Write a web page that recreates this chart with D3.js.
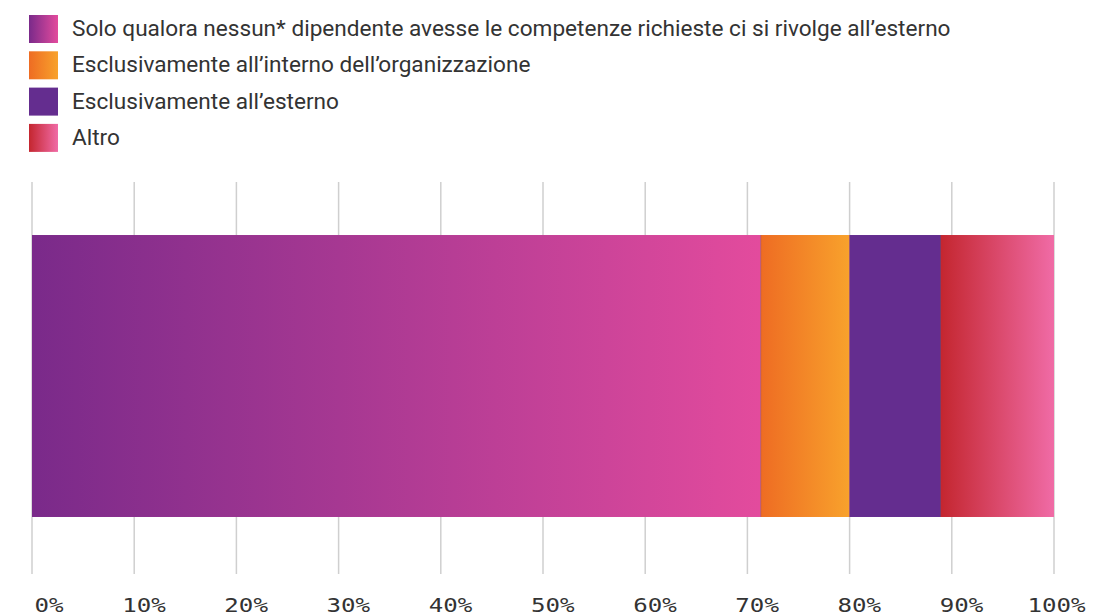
<!DOCTYPE html>
<html><head><meta charset="utf-8">
<script src="https://cdn.jsdelivr.net/npm/d3@7"></script>
<style>body{margin:0;background:#fff}svg{display:block}</style>
</head><body><svg id="c" width="1103" height="615"></svg>
<script>
const categories = ["Solo qualora nessun* dipendente avesse le competenze richieste ci si rivolge all’esterno","Esclusivamente all’interno dell’organizzazione","Esclusivamente all’esterno","Altro"];
const values = [71.3, 8.7, 8.9, 11.1];
const gradStart = ["#7a2a8a", "#ee6c23", "#642d8f", "#c4262f"];
const gradEnd = ["#e34b9d", "#f8a22c", "#642d8f", "#f06ba6"];
const tickValues = [0,10,20,30,40,50,60,70,80,90,100];
const tickLabels = ["0%","10%","20%","30%","40%","50%","60%","70%","80%","90%","100%"];

const svg = d3.select("#c");
const defs = svg.append("defs");
categories.forEach((c,i)=>{
  const g = defs.append("linearGradient").attr("id","g"+i).attr("x1","0%").attr("x2","100%").attr("y1","0%").attr("y2","0%");
  g.append("stop").attr("offset","0%").attr("stop-color",gradStart[i]);
  g.append("stop").attr("offset","100%").attr("stop-color",gradEnd[i]);
});

const x = d3.scaleLinear().domain([0,100]).range([32,1054]);
// grid
svg.append("g").selectAll("line").data(tickValues).join("line")
  .attr("x1",d=>x(d)).attr("x2",d=>x(d)).attr("y1",182).attr("y2",574)
  .attr("stroke","#cfcfcf").attr("stroke-width",1.5);

const y = d3.scaleBand().domain(["all"]).range([182,570]).paddingInner(0).paddingOuter(0.188);
let cum = 0;
const segs = values.map((v,i)=>{const s={i,start:cum,end:cum+v};cum+=v;return s;});
svg.append("g").selectAll("rect").data(segs).join("rect")
  .attr("x",d=>x(d.start)).attr("width",d=>x(d.end)-x(d.start))
  .attr("y",y("all")).attr("height",y.bandwidth())
  .attr("fill",d=>`url(#g${d.i})`);
// thin separators
svg.append("g").selectAll("line").data(segs.slice(1)).join("line")
  .attr("x1",d=>x(d.start)).attr("x2",d=>x(d.start))
  .attr("y1",y("all")).attr("y2",y("all")+y.bandwidth())
  .attr("stroke",(d)=>d.i===3?"#4a1a55":"#8a3a6a").attr("stroke-width",0.8).attr("opacity",0.7);

// axis
const axis = d3.axisBottom(x).tickValues(tickValues).tickFormat((d,i)=>tickLabels[i]).tickSize(0).tickPadding(0);
const ag = svg.append("g").attr("transform","translate(0,612)").call(axis);
ag.select(".domain").remove();
ag.selectAll("text").attr("font-family","'DejaVu Sans Mono', monospace").attr("font-size",19)
  .attr("text-anchor","end").attr("x",0).attr("y",0).attr("dy",0).attr("fill","#333")
  .attr("transform","translate(31,0) scale(1.27,1)");

// legend
const lg = svg.append("g").selectAll("g").data(categories).join("g")
  .attr("transform",(d,i)=>`translate(29,${15+i*36.3})`);
lg.append("rect").attr("width",29).attr("height",28).attr("fill",(d,i)=>`url(#g${i})`);
lg.append("text").attr("x",43).attr("y",21)
  .attr("font-family","Roboto, 'Noto Sans', sans-serif").attr("font-size",22.6).attr("fill","#333").text(d=>d);
</script></body></html>
